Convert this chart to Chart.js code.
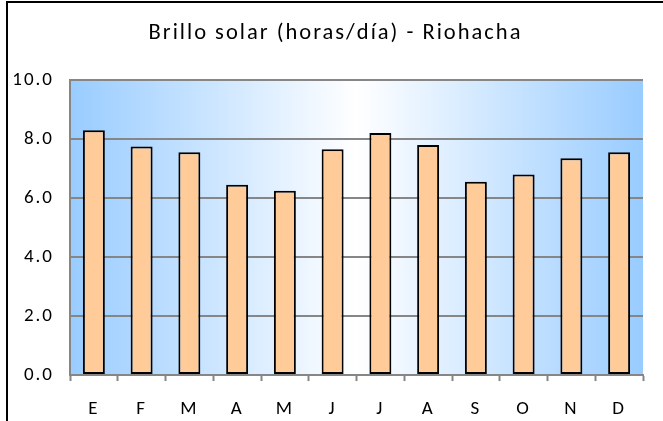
<!DOCTYPE html>
<html>
<head>
<meta charset="utf-8">
<script src="https://cdn.jsdelivr.net/npm/chart.js@4"></script>
<style>
  html, body { margin: 0; padding: 0; background: #fff; }
  #wrap { position: relative; width: 663px; height: 421px; overflow: hidden; }
  #frame {
    position: absolute; left: 6px; top: 1px; width: 700px; height: 460px;
    border-left: 2px solid #000; border-top: 2px solid #000;
    pointer-events: none;
  }
</style>
</head>
<body>
<div id="wrap">
  <canvas id="chart" width="663" height="421"></canvas>
  <div id="frame"></div>
</div>
<script>
/* ===== DATA ===== */

const chartTitle = "Brillo solar (horas/día) - Riohacha";
const months = ["E", "F", "M", "A", "M", "J", "J", "A", "S", "O", "N", "D"];
const sunHours = [8.3, 7.75, 7.55, 6.45, 6.25, 7.65, 8.2, 7.8, 6.55, 6.8, 7.35, 7.55];
const yMin = 0;
const yMax = 10;
const yStep = 2;

const fontFamily = "Carlito, 'Open Sans', 'DejaVu Sans', sans-serif";

/* ===== PLUGINS ===== */

// gradient fill behind the bars, blue at the sides and white in the middle
const plotBackground = {
  id: "plotBackground",
  beforeDraw(chart) {
    const { ctx, chartArea: a } = chart;
    const g = ctx.createLinearGradient(a.left, 0, a.right, 0);
    g.addColorStop(0, "#99ccff");
    g.addColorStop(0.5, "#ffffff");
    g.addColorStop(1, "#99ccff");
    ctx.save();
    ctx.fillStyle = g;
    ctx.fillRect(a.left, a.top, a.right - a.left, a.bottom - a.top);
    ctx.restore();
    // the old Excel text is drawn a little spread out
    ctx.letterSpacing = "2px";
  },
  afterDraw(chart) {
    chart.ctx.letterSpacing = "0px";
  }
};

/* ===== CHART ===== */

new Chart(document.getElementById("chart"), {
  type: "bar",
  data: {
    labels: months,
    datasets: [{
      data: sunHours,
      backgroundColor: "#ffcc99",
      borderColor: "#000000",
      borderWidth: 2,
      borderSkipped: false,
      barPercentage: 0.46,
      categoryPercentage: 1
    }]
  },
  options: {
    responsive: false,
    animation: false,
    layout: { padding: { left: 8, right: 0, top: 0, bottom: 0 } },
    plugins: {
      legend: { display: false },
      tooltip: { enabled: false },
      title: {
        display: true,
        text: chartTitle,
        color: "#000",
        font: { family: fontFamily, size: 22.5, weight: "normal", lineHeight: 1.2 },
        padding: { top: 20, bottom: 33 }
      }
    },
    scales: {
      x: {
        offset: true,
        afterFit: s => { s.height = 46; },
        grid: {
          offset: true,
          drawOnChartArea: false,
          drawTicks: true,
          tickLength: 6,
          tickWidth: 2,
          tickColor: "#868686"
        },
        border: { color: "#868686", width: 2 },
        ticks: {
          color: "#000",
          padding: 17,
          font: { family: fontFamily, size: 19 }
        }
      },
      y: {
        min: yMin,
        max: yMax,
        afterFit: s => { s.width = 62; },
        grid: {
          color: "#868686",
          lineWidth: 2,
          drawTicks: false
        },
        border: { color: "#868686", width: 2 },
        ticks: {
          stepSize: yStep,
          color: "#000",
          padding: 16,
          font: { family: fontFamily, size: 19 },
          callback: v => Number(v).toFixed(1)
        }
      },
      // empty right-hand axis, only keeps the white margin right of the plot
      yRight: {
        position: "right",
        min: yMin,
        max: yMax,
        afterFit: s => { s.width = 20; },
        grid: { display: false, drawTicks: false },
        border: { display: false },
        ticks: { display: false }
      }
    }
  },
  plugins: [plotBackground]
});
</script>
</body>
</html>
